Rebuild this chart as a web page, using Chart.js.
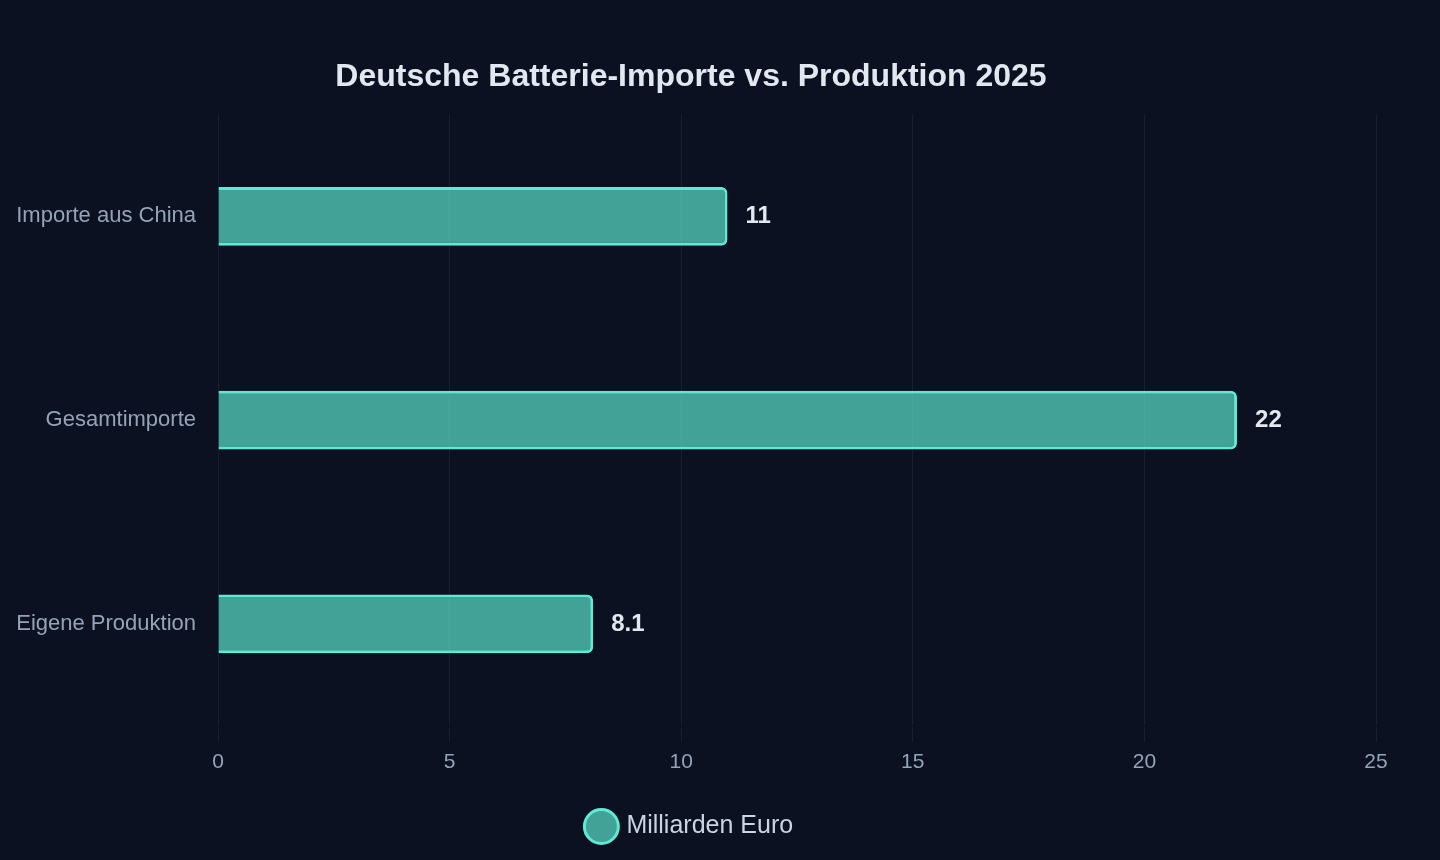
<!DOCTYPE html>
<html lang="de">
<head>
<meta charset="utf-8">
<title>Deutsche Batterie-Importe vs. Produktion 2025</title>
<script src="https://cdn.jsdelivr.net/npm/chart.js@4.4.1/dist/chart.umd.min.js"></script>
<style>
  html, body { margin: 0; padding: 0; background: #0b1120; }
  .wrap { position: relative; width: 1440px; height: 860px; }
</style>
</head>
<body>
<div class="wrap"><canvas id="chart"></canvas></div>
<script>
// Werte in Milliarden Euro
const categories = ['Importe aus China', 'Gesamtimporte', 'Eigene Produktion'];
const values = [11, 22, 8.1];
const seriesLabel = 'Milliarden Euro';
const xTicks = [0, 5, 10, 15, 20, 25];

const FONT = "'Liberation Sans', Arial, Helvetica, sans-serif";

// value labels right of each bar
const valueLabels = {
  id: 'valueLabels',
  afterDatasetsDraw(chart) {
    const { ctx } = chart;
    const meta = chart.getDatasetMeta(0);
    ctx.save();
    ctx.fillStyle = '#e2e8f0';
    ctx.font = `bold 24px ${FONT}`;
    ctx.textAlign = 'left';
    ctx.textBaseline = 'middle';
    meta.data.forEach((bar, i) => {
      ctx.fillText(String(values[i]), bar.x + 18, bar.y);
    });
    ctx.restore();
  },
};

new Chart(document.getElementById('chart'), {
  type: 'bar',
  data: {
    labels: categories,
    datasets: [{
      label: seriesLabel,
      data: values,
      backgroundColor: 'rgba(94,234,212,0.67)',
      borderColor: '#5eead4',
      borderWidth: 3,
      borderRadius: 6,
      borderSkipped: 'start',
      barPercentage: 0.32,
      categoryPercentage: 0.9,
    }],
  },
  options: {
    indexAxis: 'y',
    responsive: true,
    maintainAspectRatio: false,
    animation: false,
    layout: { padding: { left: 6, right: 64, top: 38, bottom: 11 } },
    plugins: {
      title: {
        display: true,
        text: 'Deutsche Batterie-Importe vs. Produktion 2025',
        color: '#e2e8f0',
        font: { family: FONT, size: 32, weight: 'bold' },
        padding: { top: 20, bottom: 18 },
      },
      legend: {
        position: 'bottom',
        labels: {
          color: '#cbd5e1',
          font: { family: FONT, size: 25 },
          usePointStyle: true,
          pointStyle: 'circle',
          boxHeight: 24,
          padding: 31,
        },
      },
      tooltip: { enabled: false },
    },
    scales: {
      x: {
        min: 0,
        max: 25,
        afterBuildTicks: (scale) => { scale.ticks = xTicks.map((v) => ({ value: v })); },
        grid: { color: 'rgba(148,163,184,0.1)', tickLength: 16 },
        border: { display: true, color: '#0b1120', width: 2 },
        ticks: { color: '#94a3b8', font: { family: FONT, size: 21 }, padding: 8 },
      },
      y: {
        afterFit: (scale) => { scale.width = 212; },
        grid: { display: false },
        border: { display: false },
        ticks: { color: '#94a3b8', font: { family: FONT, size: 22 }, padding: 14 },
      },
    },
  },
  plugins: [valueLabels],
});
</script>
</body>
</html>
